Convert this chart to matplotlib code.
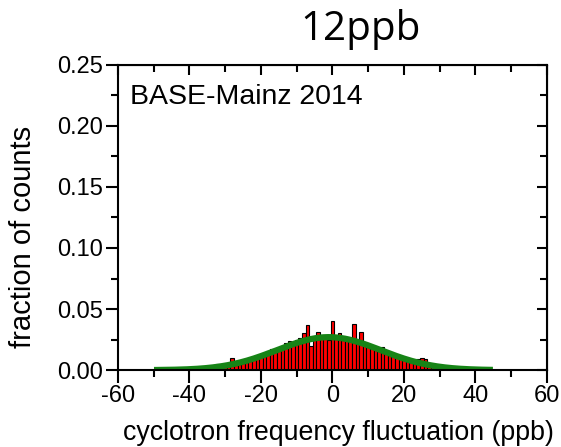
import numpy as np
import matplotlib
matplotlib.use('Agg')
import matplotlib.pyplot as plt
from matplotlib.ticker import MultipleLocator

# histogram data (bin centres in ppb, fraction of counts)
bin_centers = np.arange(-33, 34)
fractions = [0.004, 0.005, 0.002, 0.003, 0.004, 0.010, 0.004, 0.005, 0.006, 0.007,
             0.008, 0.010, 0.011, 0.012, 0.014, 0.016, 0.017, 0.016, 0.018, 0.020,
             0.022, 0.024, 0.023, 0.025, 0.026, 0.030, 0.037, 0.020, 0.026, 0.031,
             0.029, 0.027, 0.025, 0.040, 0.028, 0.030, 0.025, 0.027, 0.026, 0.038,
             0.024, 0.031, 0.022, 0.021, 0.020, 0.018, 0.016, 0.019, 0.014, 0.012,
             0.013, 0.011, 0.010, 0.009, 0.008, 0.007, 0.008, 0.009, 0.010, 0.009,
             0.006, 0.005, 0.004, 0.003, 0.002, 0.002, 0.001]

# gaussian fit parameters
fit_amp = 0.027
fit_center = -1.0
fit_sigma = 14.5
fit_range = (-49, 44)

plt.rcParams['font.family'] = ['Liberation Sans', 'DejaVu Sans']
plt.rcParams['axes.unicode_minus'] = False

fig = plt.figure(figsize=(5.61, 4.47), dpi=100)
ax = fig.add_axes([0.210, 0.172, 0.765, 0.683])

ax.bar(bin_centers, fractions, width=1.0, color='red', edgecolor='black', linewidth=0.8)

xf = np.linspace(fit_range[0], fit_range[1], 400)
yf = fit_amp * np.exp(-(xf - fit_center)**2 / (2 * fit_sigma**2))
ax.plot(xf, yf, color='#168416', lw=4.5)

ax.set_xlim(-60, 60)
ax.set_ylim(0, 0.25)
ax.xaxis.set_major_locator(MultipleLocator(20))
ax.xaxis.set_minor_locator(MultipleLocator(10))
ax.yaxis.set_major_locator(MultipleLocator(0.05))
ax.yaxis.set_minor_locator(MultipleLocator(0.025))
ax.yaxis.set_major_formatter(plt.FuncFormatter(lambda v, p: '%.2f' % v))

for s in ax.spines.values():
    s.set_linewidth(1.5)
ax.tick_params(which='both', direction='out', width=1.5, labelsize=17)
ax.tick_params(which='major', length=9, pad=2)
ax.tick_params(which='minor', length=5)

# inward ticks on top and right
ax2 = ax.secondary_xaxis('top')
ax2.xaxis.set_major_locator(MultipleLocator(20))
ax2.xaxis.set_minor_locator(MultipleLocator(10))
ax2.tick_params(which='both', direction='in', width=1.5, labeltop=False)
ax2.tick_params(which='major', length=7)
ax2.tick_params(which='minor', length=5)
ax3 = ax.secondary_yaxis('right')
ax3.yaxis.set_major_locator(MultipleLocator(0.05))
ax3.yaxis.set_minor_locator(MultipleLocator(0.025))
ax3.tick_params(which='both', direction='in', width=1.5, labelright=False)
ax3.tick_params(which='major', length=7)
ax3.tick_params(which='minor', length=5)

ax.set_xlabel('cyclotron frequency fluctuation (ppb)', fontsize=19.3, va='center')
ax.set_ylabel('fraction of counts', fontsize=21, va='center')
ax.xaxis.set_label_coords(0.515, -0.205)
ax.yaxis.set_label_coords(-0.222, 0.436)
ax.text(0.028, 0.893, 'BASE-Mainz 2014', transform=ax.transAxes, fontsize=20.5,
        va='center', ha='left')
fig.text(0.642, 0.935, '12ppb', fontsize=29, ha='center', va='center',
         family=['Open Sans', 'DejaVu Sans'])

fig.savefig('out.png', dpi=100)
